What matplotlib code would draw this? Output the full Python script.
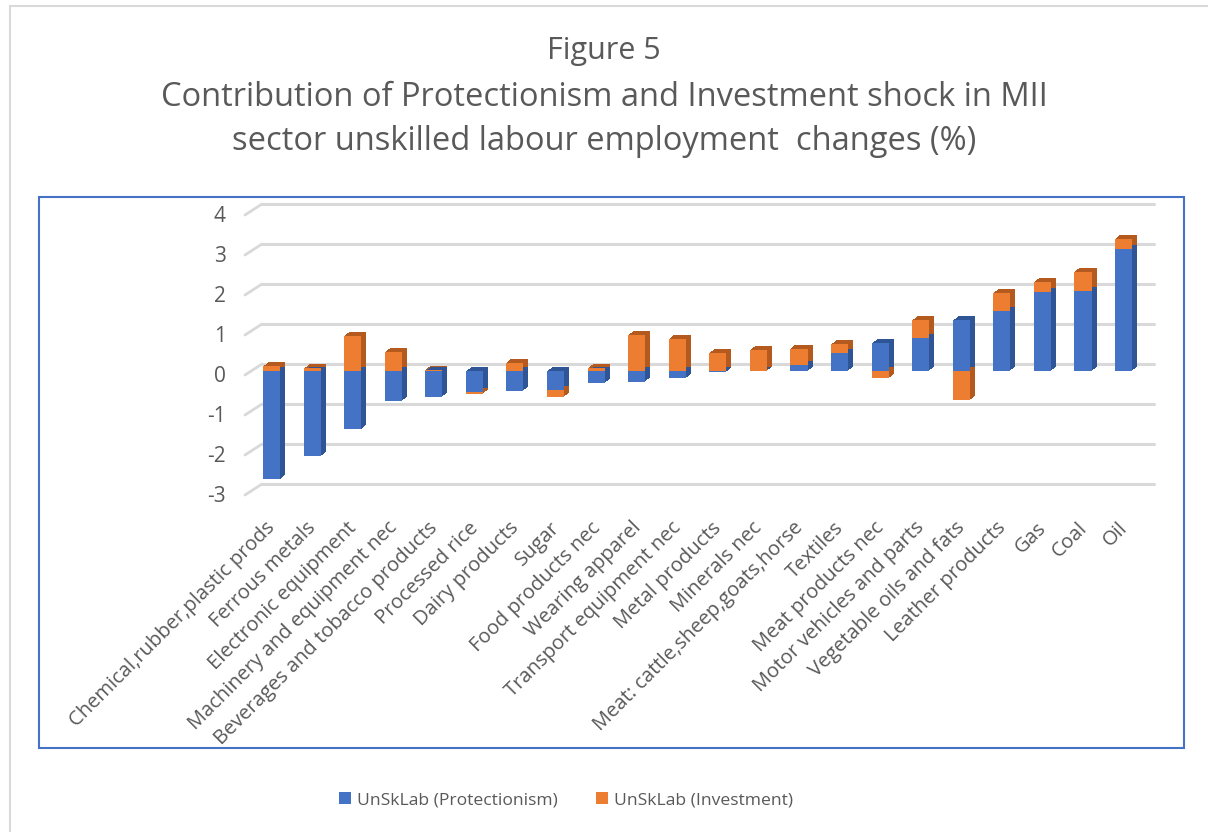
import matplotlib
matplotlib.use("Agg")
import matplotlib.pyplot as plt
from matplotlib.patches import Rectangle, Patch
from matplotlib.transforms import Affine2D

plt.rcParams['font.family'] = ['Open Sans', 'DejaVu Sans']

sectors = [
    "Chemical,rubber,plastic prods", "Ferrous metals", "Electronic equipment",
    "Machinery and equipment nec", "Beverages and tobacco products", "Processed rice",
    "Dairy products", "Sugar", "Food products nec", "Wearing apparel",
    "Transport equipment nec", "Metal products", "Minerals nec",
    "Meat: cattle,sheep,goats,horse", "Textiles", "Meat products nec",
    "Motor vehicles and parts", "Vegetable oils and fats", "Leather products",
    "Gas", "Coal", "Oil",
]
protectionism = [-2.71, -2.13, -1.46, -0.75, -0.65, -0.52, -0.50, -0.48, -0.30, -0.27,
                 -0.18, -0.03, 0.01, 0.14, 0.45, 0.70, 0.82, 1.27, 1.49, 1.97, 1.99, 3.04]
investment = [0.12, 0.07, 0.88, 0.48, 0.03, -0.05, 0.21, -0.17, 0.08, 0.90,
              0.81, 0.45, 0.52, 0.42, 0.22, -0.18, 0.45, -0.73, 0.46, 0.26, 0.49, 0.27]
y_ticks = [-3, -2, -1, 0, 1, 2, 3, 4]
series_names = ["UnSkLab (Protectionism)", "UnSkLab (Investment)"]

BLUE, BLUE_DARK = "#4472C4", "#2F5597"
ORANGE, ORANGE_DARK = "#ED7D31", "#B45A1E"
GRID = "#D9D9D9"
TEXT = "#595959"

W, H = 1208, 832
fig = plt.figure(figsize=(W / 100, H / 100), dpi=100)

# outer chart border and plot-area frame
fig.patches.append(Rectangle((10 / W, -0.1), 1.2, 1.1 - 6 / H, transform=fig.transFigure,
                             fill=False, edgecolor=GRID, lw=1.5))
fig.patches.append(Rectangle((39 / W, 1 - 748 / H), (1184 - 39) / W, (748 - 197) / H,
                             transform=fig.transFigure, fill=False, edgecolor=BLUE, lw=1.5))

ax = fig.add_axes([247 / W, 1 - 491 / H, (1139 - 247) / W, 280 / H])
x0, x1 = -0.604, 21.38
ax.set_xlim(x0, x1)
ax.set_ylim(-3, 4)
ax.axis("off")

# back-wall gridlines and floor diagonals
back = ax.transData + Affine2D().translate(15, 7)
for v in y_ticks:
    ax.plot([x0, x1], [v, v], color=GRID, lw=2.2, transform=back, solid_capstyle="round",
            zorder=1, clip_on=False)
    ax.annotate("", xy=(x0, v), xycoords=back, xytext=(-17, -11), textcoords="offset pixels",
                arrowprops=dict(arrowstyle="-", color=GRID, lw=2.0, shrinkA=0, shrinkB=0),
                zorder=1)
    ax.text(x0, v, str(v), transform=ax.transData + Affine2D().translate(-21, -6),
            ha="right", va="center", fontsize=15, color=TEXT)

# stacked segments: positives stack up from zero, negatives down
xs = list(range(len(sectors)))
blue_bottom = [0.0] * len(xs)
orange_bottom = [max(p, 0) if q >= 0 else min(p, 0) for p, q in zip(protectionism, investment)]
width = 0.42

# extruded depth (side and top faces)
for k in range(1, 6):
    shift = ax.transData + Affine2D().translate(k, k * 0.8)
    ax.bar(xs, protectionism, width, bottom=blue_bottom, color=BLUE_DARK,
           transform=shift, zorder=2, clip_on=False)
    ax.bar(xs, investment, width, bottom=orange_bottom, color=ORANGE_DARK,
           transform=shift, zorder=2, clip_on=False)

# front faces
ax.bar(xs, protectionism, width, bottom=blue_bottom, color=BLUE, zorder=3, clip_on=False)
ax.bar(xs, investment, width, bottom=orange_bottom, color=ORANGE, zorder=3, clip_on=False)

for i, name in enumerate(sectors):
    ax.text(i, -3, name, transform=ax.transData + Affine2D().translate(1, -34),
            rotation=45, rotation_mode="anchor", ha="right", va="center",
            fontsize=14.5, color=TEXT)

# title
title_lines = ["Figure 5",
               "Contribution of Protectionism and Investment shock in MII",
               "sector unskilled labour employment  changes (%)"]
for line, yc, fs in zip(title_lines, [51, 98, 141], [22, 23.5, 23.5]):
    fig.text(604 / W, 1 - yc / H, line, ha="center", va="center", fontsize=fs, color=TEXT)

handles = [Patch(facecolor=BLUE), Patch(facecolor=ORANGE)]
fig.legend(handles, series_names, loc="center", bbox_to_anchor=(566 / W, 1 - 800 / H),
           ncol=2, frameon=False, fontsize=12.6, labelcolor=TEXT, handlelength=0.7,
           handleheight=0.7, handletextpad=0.35, columnspacing=2.2)

fig.savefig("out.png", dpi=100)
